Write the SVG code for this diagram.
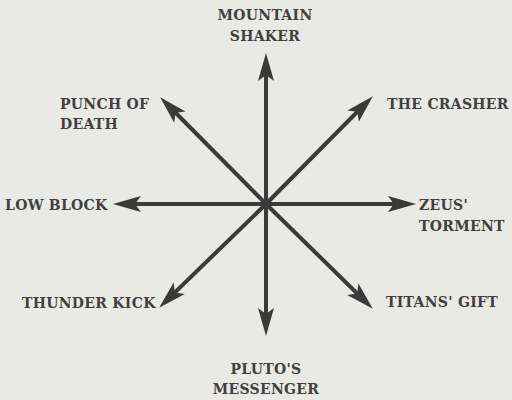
<svg xmlns="http://www.w3.org/2000/svg" width="512" height="400" viewBox="0 0 512 400">
<defs>
<marker id="ah" markerUnits="userSpaceOnUse" markerWidth="40" markerHeight="40" viewBox="-10 -10 30 20" refX="0" refY="0" orient="auto" overflow="visible">
<path d="M12,0 L-9,-6 L-4.5,0 L-9,6 Z" fill="#3a3a3a"/>
</marker>
<style>
.c line{stroke:#3a3a3a;stroke-width:4;marker-end:url(#ah)}
text{font-family:"DejaVu Serif","Liberation Serif",serif;font-size:14px;font-weight:bold;letter-spacing:0.3px;fill:#404040}
</style>
</defs>
<rect width="512" height="400" fill="#e9e9e5"/>
<g class="c" id="connectors">
<line x1="266" y1="204" x2="266" y2="69"/>
<line x1="266" y1="204" x2="266" y2="320"/>
<line x1="266" y1="204" x2="129" y2="204"/>
<line x1="266" y1="204" x2="400" y2="204"/>
<line x1="266" y1="204" x2="171.4" y2="108.5"/>
<line x1="266" y1="204" x2="361.6" y2="107.5"/>
<line x1="266" y1="204" x2="170.6" y2="296.6"/>
<line x1="266" y1="204" x2="361.4" y2="297.6"/>
<circle cx="266" cy="204" r="4" fill="#3a3a3a"/>
</g>
<g id="mountain-shaker"><text x="265" y="20" text-anchor="middle">MOUNTAIN</text><text x="265" y="41" text-anchor="middle">SHAKER</text></g>
<g id="punch-of-death"><text x="60" y="109">PUNCH OF</text><text x="60" y="129">DEATH</text></g>
<g id="the-crasher"><text x="387" y="109">THE CRASHER</text></g>
<g id="low-block"><text x="5" y="210">LOW BLOCK</text></g>
<g id="zeus-torment"><text x="419" y="210">ZEUS'</text><text x="419" y="231">TORMENT</text></g>
<g id="thunder-kick"><text x="22" y="308">THUNDER KICK</text></g>
<g id="titans-gift"><text x="386" y="307">TITANS' GIFT</text></g>
<g id="plutos-messenger"><text x="266" y="374" text-anchor="middle">PLUTO'S</text><text x="266" y="394" text-anchor="middle">MESSENGER</text></g>
</svg>
